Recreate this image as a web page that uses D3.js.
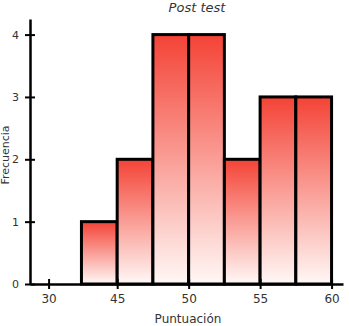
<!DOCTYPE html>
<html>
<head>
<meta charset="utf-8">
<script src="https://cdn.jsdelivr.net/npm/d3@7"></script>
<style>
body { margin: 0; background: #fff; }
text { font-family: "DejaVu Sans", sans-serif; fill: #333; }
</style>
</head>
<body>
<div class="chart"></div>
<script>
// bins of 2.5 points
const binStarts = [42.5, 45, 47.5, 50, 52.5, 55, 57.5];
const binWidth = 2.5;
const counts = [1, 2, 4, 4, 2, 3, 3];
const xTickValues = [40.2, 45, 50, 55, 60];
const xTickLabels = ['30', '45', '50', '55', '60'];
const yTickValues = [0, 1, 2, 3, 4];

const width = 349;
const height = 326;
const svg = d3.select('.chart')
	.append('svg')
	.attr('width', width)
	.attr('height', height);

const x = d3.scaleLinear().domain([38.9, 60.8]).range([30, 343]);
const y = d3.scaleLinear().domain([0, 4.25]).range([284, 19]);

const grad = svg.append('defs').append('linearGradient')
	.attr('id', 'barGrad')
	.attr('x1', 0).attr('y1', 0)
	.attr('x2', 0).attr('y2', 1);
grad.append('stop').attr('offset', '0%').attr('stop-color', '#f44336');
grad.append('stop').attr('offset', '100%').attr('stop-color', '#fff8f6');

const data = binStarts.map((d, i) => ({x0: d, x1: d + binWidth, count: counts[i]}));

svg.selectAll('rect')
	.data(data)
	.enter()
	.append('rect')
	.attr('x', d => x(d.x0))
	.attr('y', d => y(d.count))
	.attr('width', d => x(d.x1) - x(d.x0))
	.attr('height', d => y(0) - y(d.count))
	.attr('fill', 'url(#barGrad)')
	.attr('stroke', '#000')
	.attr('stroke-width', 3);

const xAxis = svg.append('g')
	.attr('transform', 'translate(0,' + y(0) + ')')
	.call(d3.axisBottom(x)
		.tickValues(xTickValues)
		.tickFormat((d, i) => xTickLabels[i])
		.tickSizeInner(5)
		.tickSizeOuter(0)
		.tickPadding(5));
xAxis.select('.domain').attr('stroke-width', 2.5);
xAxis.selectAll('.tick line').attr('y1', -5).attr('stroke-width', 2);
xAxis.selectAll('.tick text').attr('font-size', '12px').attr('fill', '#333');

const yAxis = svg.append('g')
	.attr('transform', 'translate(' + x(38.9) + ',0)')
	.call(d3.axisLeft(y)
		.tickValues(yTickValues)
		.tickFormat(d3.format('d'))
		.tickSizeInner(5)
		.tickSizeOuter(0)
		.tickPadding(6));
yAxis.select('.domain').attr('stroke-width', 2.5);
yAxis.selectAll('.tick line').attr('x2', 5).attr('x1', -5).attr('stroke-width', 2);
yAxis.selectAll('.tick text').attr('font-size', '11px').attr('fill', '#333');

svg.append('text')
	.attr('x', 197)
	.attr('y', 12)
	.attr('text-anchor', 'middle')
	.attr('font-size', '13px')
	.attr('font-style', 'italic')
	.text('Post test');

svg.append('text')
	.attr('x', 188)
	.attr('y', 323)
	.attr('text-anchor', 'middle')
	.attr('font-size', '12px')
	.text('Puntuación');

svg.append('text')
	.attr('transform', 'translate(9,155) rotate(-90)')
	.attr('text-anchor', 'middle')
	.attr('font-size', '11px')
	.text('Frecuencia');
</script>
</body>
</html>
